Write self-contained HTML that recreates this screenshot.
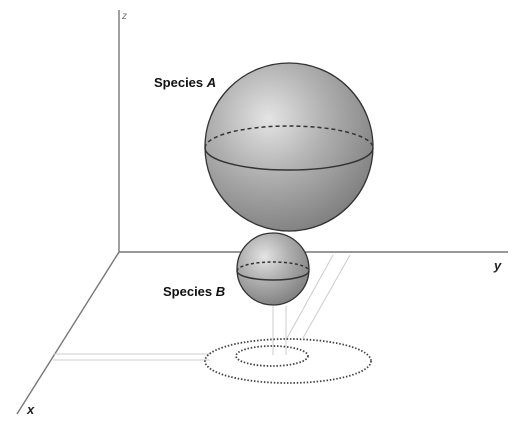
<!DOCTYPE html>
<html><head><meta charset="utf-8"><style>
body{margin:0;background:#fff}
svg{display:block;font-family:"Liberation Sans",sans-serif}
</style></head><body>
<svg width="528" height="426" viewBox="0 0 528 426">
<defs>
<radialGradient id="g" cx="0.38" cy="0.33" r="0.75">
<stop offset="0" stop-color="#e4e4e4"/><stop offset="0.45" stop-color="#b0b0b0"/><stop offset="1" stop-color="#7a7a7a"/>
</radialGradient>
</defs>
<g stroke="#777" stroke-width="1.4" fill="none">
<line x1="119" y1="10" x2="119" y2="252"/>
<line x1="119" y1="252" x2="508" y2="252"/>
<line x1="119" y1="252" x2="17" y2="414"/>
</g>
<text x="122" y="19" font-size="10" font-style="italic" fill="#777">z</text>
<text x="494" y="270" font-size="13" font-weight="bold" font-style="italic" fill="#222">y</text>
<text x="27" y="414" font-size="13" font-weight="bold" font-style="italic" fill="#222">x</text>
<g stroke="#ccc" stroke-width="1" fill="none">
<line x1="53" y1="354" x2="210" y2="354"/><line x1="53" y1="360" x2="210" y2="360"/>
<line x1="333" y1="255" x2="286" y2="340"/><line x1="350" y1="255" x2="303" y2="338"/>
<line x1="273" y1="306" x2="273" y2="355"/><line x1="286" y1="306" x2="286" y2="355"/>
<line x1="289" y1="150" x2="289" y2="232" stroke="#bbb"/>
</g>
<g fill="none" stroke="#444" stroke-width="1.8" stroke-dasharray="1.5 1.8">
<ellipse cx="288" cy="361" rx="83" ry="22"/>
<ellipse cx="272" cy="356" rx="36" ry="10"/>
</g>
<g>
<circle cx="289" cy="147" r="84" fill="url(#g)" stroke="#333" stroke-width="1.3"/>
<path d="M205,148 A84,22 0 0 1 373,148" fill="none" stroke="#333" stroke-width="1.5" stroke-dasharray="4 3"/>
<path d="M205,148 A84,22 0 0 0 373,148" fill="none" stroke="#333" stroke-width="1.5"/>
</g>
<g>
<circle cx="273" cy="269" r="36" fill="url(#g)" stroke="#333" stroke-width="1.3"/>
<path d="M237,271 A36,9 0 0 1 309,271" fill="none" stroke="#333" stroke-width="1.5" stroke-dasharray="3 2.5"/>
<path d="M237,271 A36,9 0 0 0 309,271" fill="none" stroke="#333" stroke-width="1.5"/>
</g>
<text x="154" y="87" font-size="13" font-weight="bold" fill="#111">Species <tspan font-style="italic">A</tspan></text>
<text x="163" y="296" font-size="13" font-weight="bold" fill="#111">Species <tspan font-style="italic">B</tspan></text>
</svg>
</body></html>
